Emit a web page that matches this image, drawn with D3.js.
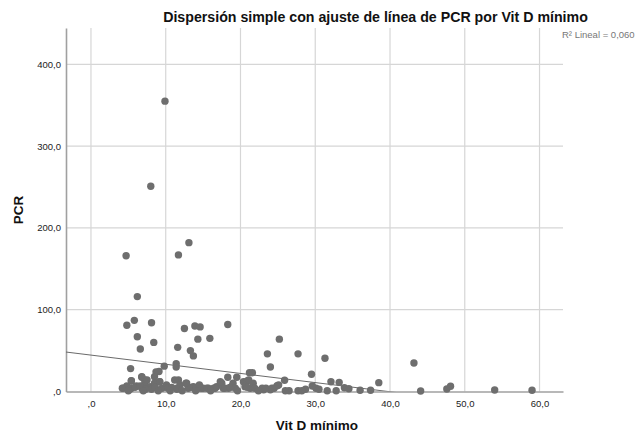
<!DOCTYPE html>
<html>
<head>
<meta charset="utf-8">
<script src="https://cdn.jsdelivr.net/npm/d3@7"></script>
<style>
  html, body { margin: 0; padding: 0; background: #fff; }
  svg { display: block; font-family: "Liberation Sans", Arial, sans-serif; }
</style>
</head>
<body>
<svg id="chart" width="641" height="439"></svg>
<script>
// ---- Data ----
const chartTitle = "Dispersión simple con ajuste de línea de PCR por Vit D mínimo";
const xLabel = "Vit D mínimo";
const yLabel = "PCR";
const r2Text = "R\u00B2 Lineal = 0,060";

const xTicks = [0, 10, 20, 30, 40, 50, 60];
const yTicks = [0, 100, 200, 300, 400];

// Vit D mínimo values
const vitD = [
  9.9, 8.0, 4.7, 11.7, 13.1, 6.2,
  4.8, 5.8, 8.1, 6.2, 8.4, 6.6, 5.3,
  12.5, 13.9, 14.6, 14.3, 15.9, 11.6, 13.3, 13.7, 18.3,
  11.4, 11.4, 9.8, 21.2, 21.6, 19.5, 18.3, 8.7, 9.1,
  25.2, 23.6, 27.7, 24.0, 31.3, 29.5, 25.9, 32.1, 33.2, 38.5, 43.2, 44.1,
  26.5, 27.7, 28.7, 29.6, 30.1, 30.5, 31.6, 33.9, 34.5, 36.0, 37.4,
  20.4, 23.1, 24.0, 24.5, 25.1, 24.9,
  47.6, 48.1, 54.0, 59.0,
  5.4, 6.8, 7.2, 9.2, 11.7, 20.9,
  4.3, 4.8, 5.4, 5.4, 6.1, 6.8, 6.8, 7.2, 7.5, 7.9, 8.5, 8.5, 9.2, 9.5, 10.1,
  11.2, 11.5, 11.9, 12.8, 13.0, 13.7, 14.4, 15.0, 15.7, 16.4, 16.8, 17.5, 17.7,
  18.4, 18.8, 19.0, 20.6, 21.1, 21.3, 21.7,
  12.7, 13.5, 14.1, 14.5, 14.8, 15.5, 16.6, 17.3, 17.9, 18.6, 19.3, 20.9, 21.9, 22.9, 23.4, 24.2,
  4.2, 5.2, 5.9, 6.6, 7.3, 8.1, 8.6, 10.3, 10.8, 11.5,
  5.0, 7.0, 9.0, 10.6, 12.2, 14.0, 16.0, 19.6, 22.4, 26.0, 28.2, 32.8
];
// PCR values
const pcr = [
  355, 251, 166, 167, 182, 116,
  81, 87, 84, 67, 60, 52, 28,
  77, 80, 79, 64, 65, 54, 50, 43.5, 82,
  34, 30, 31, 23, 23, 17.5, 17.5, 24, 24.5,
  64, 46, 46, 30, 40.6, 21, 13.7, 12, 11.2, 10.8, 34.8, 0.6,
  1, 1, 2.7, 6.7, 4, 2.7, 1, 4.5, 3.4, 1.5, 1.5,
  12, 2, 2, 4, 8, 7,
  3, 6.4, 1.8, 1.5,
  12.8, 18, 14, 12, 14, 12.8,
  3.9, 6.7, 13.2, 3.9, 6.7, 17.4, 3.9, 10, 14, 5.9, 18, 10, 12, 3.9, 8,
  14, 3.9, 8, 10, 3.9, 5.9, 3.9, 3.9, 3.9, 3.9, 5.9, 10, 3.9,
  3.9, 5.9, 10, 5.9, 14, 3.9, 10,
  10, 5.1, 5.1, 8, 3.9, 3.9, 3.9, 12, 3.9, 5.1, 3.9, 5.1, 3.9, 3.9, 3.9, 3.9,
  3.9, 2.7, 5.1, 6.7, 2.7, 2.7, 5.1, 3.9, 5.1, 2.7,
  1, 1, 1, 1, 1, 1, 1, 1, 1, 1, 1, 1
];

// Linear fit (intercept, slope)
const fitIntercept = 44.5;
const fitSlope = -1.12;

const xDomain = [-3.34, 63.14];
const yDomain = [0, 444.4];

// ---- Layout ----
const svg = d3.select("#chart");
const plot = { left: 66, right: 563, top: 28, bottom: 391.5 };

const x = d3.scaleLinear().domain(xDomain).range([plot.left, plot.right]);
const y = d3.scaleLinear().domain(yDomain).range([plot.bottom, plot.top]);

const fmt = v => {
  const s = d3.format(".1f")(v).replace(".", ",");
  return s.startsWith("0,") ? s.slice(1) : s;
};

// Grid lines
const grid = svg.append("g");
grid.selectAll("line.v").data(xTicks).enter().append("line")
  .attr("x1", d => x(d)).attr("x2", d => x(d))
  .attr("y1", plot.top).attr("y2", plot.bottom)
  .attr("stroke", "#d6d6d6").attr("stroke-width", 1.2);
grid.selectAll("line.h").data(yTicks.filter(d => d > 0)).enter().append("line")
  .attr("x1", plot.left).attr("x2", plot.right)
  .attr("y1", d => y(d)).attr("y2", d => y(d))
  .attr("stroke", "#d6d6d6").attr("stroke-width", 1.2);

// Axes (lines only, labels via d3 axis)
const xAxis = d3.axisBottom(x).tickValues(xTicks).tickFormat(fmt).tickSize(0).tickPadding(9);
const yAxis = d3.axisLeft(y).tickValues(yTicks).tickFormat(fmt).tickSize(0).tickPadding(5);

const gx = svg.append("g").attr("transform", `translate(0,${plot.bottom})`).call(xAxis);
const gy = svg.append("g").attr("transform", `translate(${plot.left},0)`).call(yAxis);
[gx, gy].forEach(g => {
  g.select(".domain").attr("stroke", "#a0a0a0").attr("stroke-width", 1.6);
  g.selectAll("text").attr("font-size", "9.5px").attr("fill", "#222")
    .attr("font-family", '"Liberation Sans", Arial, sans-serif');
});

// Clip for the fit line
svg.append("clipPath").attr("id", "plotclip").append("rect")
  .attr("x", plot.left).attr("y", plot.top)
  .attr("width", plot.right - plot.left).attr("height", plot.bottom - plot.top);

// Fit line
const fitX = xDomain;
svg.append("line")
  .attr("clip-path", "url(#plotclip)")
  .attr("x1", x(fitX[0])).attr("y1", y(fitIntercept + fitSlope * fitX[0]))
  .attr("x2", x(fitX[1])).attr("y2", y(fitIntercept + fitSlope * fitX[1]))
  .attr("stroke", "#6a6a6a").attr("stroke-width", 1);

// Points
const pts = vitD.map((v, i) => ({ x: v, y: pcr[i] }));
svg.append("g").selectAll("circle").data(pts).enter().append("circle")
  .attr("cx", d => x(d.x)).attr("cy", d => y(d.y)).attr("r", 3.7)
  .attr("fill", "#6e6e6e");

// Title (fitted to the reference width)
const title = svg.append("text").attr("x", 375.5).attr("y", 22)
  .attr("text-anchor", "middle").attr("font-weight", "bold")
  .attr("font-size", "13px").attr("fill", "#111").text(chartTitle);
const tw = title.node().getComputedTextLength();
title.attr("font-size", (13 * 425 / tw).toFixed(2) + "px");

// R² label
svg.append("text").attr("x", 562).attr("y", 38)
  .attr("font-size", "9.5px").attr("fill", "#777").text(r2Text);

// Axis titles
svg.append("text").attr("x", 317).attr("y", 430).attr("text-anchor", "middle")
  .attr("font-weight", "bold").attr("font-size", "13.5px").attr("fill", "#111").text(xLabel);
svg.append("text").attr("transform", "translate(23,210) rotate(-90)").attr("text-anchor", "middle")
  .attr("font-weight", "bold").attr("font-size", "13.5px").attr("fill", "#111").text(yLabel);
</script>
</body>
</html>
